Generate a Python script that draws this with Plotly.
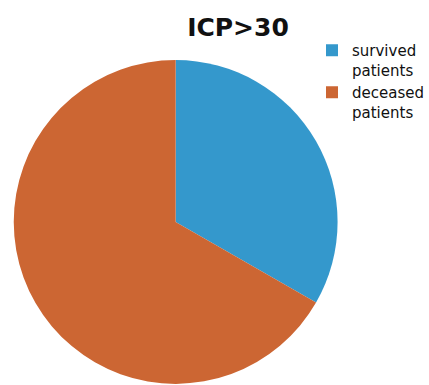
import plotly.graph_objects as go

title_text = "ICP>30"
labels = ["survived<br>patients", "deceased<br>patients"]
values = [33.3, 66.7]
colors = ["#3498cc", "#cc6633"]

W, H = 429, 385

fig = go.Figure(
    go.Pie(
        labels=labels,
        values=values,
        sort=False,
        direction="clockwise",
        rotation=0,
        textinfo="none",
        hoverinfo="label+percent",
        marker=dict(colors=colors, line=dict(width=0)),
        domain=dict(x=[14 / W, 344 / W], y=[0, 0.847]),
    )
)

fig.update_layout(
    width=W,
    height=H,
    margin=dict(l=0, r=0, t=0, b=0),
    paper_bgcolor="white",
    plot_bgcolor="white",
    font=dict(family="DejaVu Sans", color="#111111"),
    title=dict(
        text="<b>" + title_text + "</b>",
        font=dict(family="DejaVu Sans", size=25, color="#111111"),
        x=238 / W,
        xanchor="center",
        xref="container",
        y=1 - 27 / H,
        yanchor="middle",
        yref="container",
    ),
    showlegend=True,
    legend=dict(
        x=318 / W,
        xanchor="left",
        y=1 - 34 / H,
        yanchor="top",
        font=dict(family="DejaVu Sans", size=15, color="#111111"),
        valign="top",
        tracegroupgap=0,
        itemwidth=30,
        bgcolor="rgba(0,0,0,0)",
    ),
)

fig.write_html("out.html")
